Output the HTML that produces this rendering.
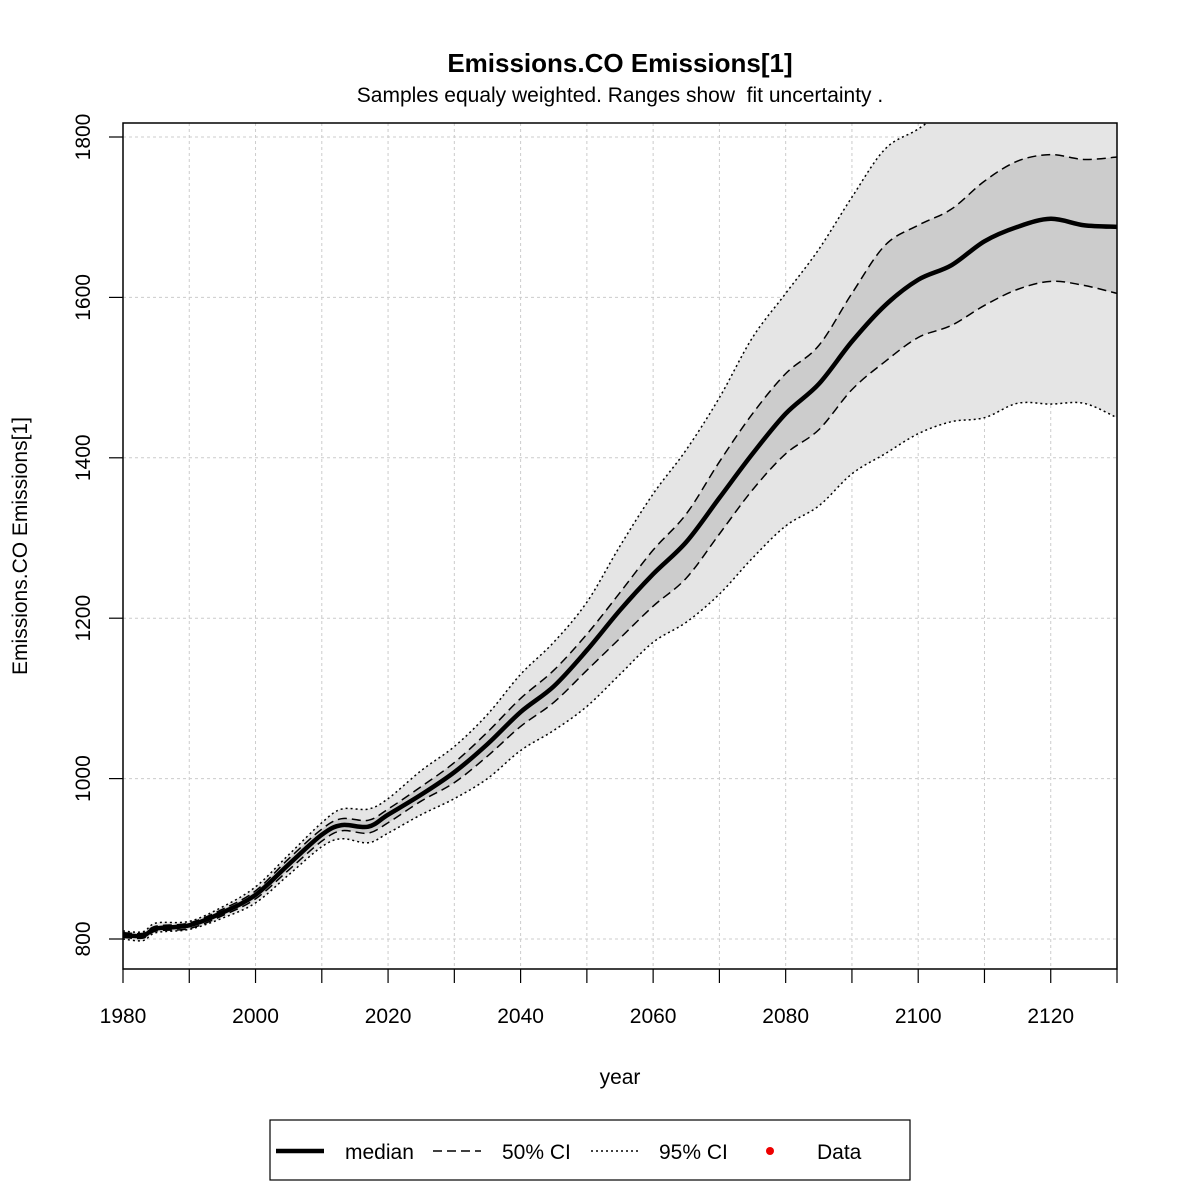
<!DOCTYPE html>
<html><head><meta charset="utf-8"><style>
body{margin:0;background:#fff}
svg{font-family:"Liberation Sans",Arial,sans-serif}
</style></head><body>
<svg id="chart" width="1181" height="1181" viewBox="0 0 1181 1181">
<defs><clipPath id="pc"><rect x="123" y="123" width="994" height="846"/></clipPath></defs>
<rect width="1181" height="1181" fill="#fff"/>
<text x="620" y="72" text-anchor="middle" font-size="26" font-weight="bold">Emissions.CO Emissions[1]</text>
<text x="620" y="102" text-anchor="middle" font-size="21" style="white-space:pre">Samples equaly weighted. Ranges show&#160; fit uncertainty .</text>
<g id="grid"></g>
<g id="bands" clip-path="url(#pc)"></g>
<g id="lines" clip-path="url(#pc)"></g>
<rect x="123" y="123" width="994" height="846" fill="none" stroke="#000" stroke-width="1.5"/>
<g id="axes"></g>
<text x="620" y="1084" text-anchor="middle" font-size="21">year</text>
<text transform="translate(27,546) rotate(-90)" text-anchor="middle" font-size="21">Emissions.CO Emissions[1]</text>
<g>
<rect x="270" y="1120" width="640" height="60" fill="#fff" stroke="#000" stroke-width="1.2"/>
<g><line x1="276" y1="1151" x2="324" y2="1151" stroke="#000" stroke-width="4.5"/><text x="345" y="1159" font-size="21">median</text></g>
<g><line x1="433" y1="1151" x2="481" y2="1151" stroke="#000" stroke-width="1.5" stroke-dasharray="9,5"/><text x="502" y="1159" font-size="21">50% CI</text></g>
<g><line x1="591" y1="1151" x2="639" y2="1151" stroke="#000" stroke-width="1.5" stroke-dasharray="2,3"/><text x="659" y="1159" font-size="21">95% CI</text></g>
<g><circle cx="770" cy="1151" r="4" fill="#e00"/><text x="817" y="1159" font-size="21">Data</text></g>
</g>
</svg>
<script>
const years   =[1980,1983,1985,1990,1995,2000,2005,2010,2013,2017,2020,2025,2030,2035,2040,2045,2050,2055,2060,2065,2070,2075,2080,2085,2090,2095,2100,2105,2110,2115,2120,2125,2130];
const median  =[805,804,813,817,833,855,893,930,942,940,955,980,1008,1043,1083,1115,1160,1210,1255,1295,1350,1405,1455,1492,1545,1590,1622,1640,1670,1688,1698,1690,1688];
const upper50 =[808,807,816,820,837,860,900,937,950,948,962,990,1020,1058,1100,1135,1180,1232,1285,1330,1395,1455,1505,1540,1605,1665,1690,1710,1745,1770,1778,1772,1775];
const lower50 =[802,801,810,813,829,850,886,922,935,932,945,972,995,1028,1065,1095,1135,1175,1215,1250,1305,1360,1405,1435,1485,1520,1550,1565,1590,1610,1620,1615,1605];
const upper95 =[810,809,820,822,840,865,905,945,962,962,975,1010,1040,1080,1130,1170,1220,1290,1355,1410,1475,1550,1605,1660,1725,1785,1810,1840,1870,1895,1915,1930,1945];
const lower95 =[800,798,808,812,826,845,880,915,925,920,932,955,975,1000,1035,1060,1090,1130,1170,1195,1230,1275,1315,1340,1380,1405,1430,1445,1450,1468,1467,1468,1450];
const xTicks  =[1980,2000,2020,2040,2060,2080,2100,2120];
const xMinor  =[1980,1990,2000,2010,2020,2030,2040,2050,2060,2070,2080,2090,2100,2110,2120,2130];
const yTicks  =[800,1000,1200,1400,1600,1800];
const NS="http://www.w3.org/2000/svg";
const X=v=>123+(v-1980)*994/150;
const Y=v=>939-(v-800)*0.802;
function mk(t,a,p){const e=document.createElementNS(NS,t);for(const k in a)e.setAttribute(k,a[k]);p.appendChild(e);return e;}
function pts(arr){return years.map((y,i)=>[X(y),Y(arr[i])]);}
function smooth(P){let d=`M${P[0][0]},${P[0][1]}`;for(let i=0;i<P.length-1;i++){const p0=P[i-1]||P[i],p1=P[i],p2=P[i+1],p3=P[i+2]||P[i+1];
d+=` C${p1[0]+(p2[0]-p0[0])/6},${p1[1]+(p2[1]-p0[1])/6} ${p2[0]-(p3[0]-p1[0])/6},${p2[1]-(p3[1]-p1[1])/6} ${p2[0]},${p2[1]}`;}return d;}
function band(up,lo){const a=smooth(pts(up));const b=smooth(pts(lo).reverse());return a+" L"+b.slice(1)+" Z";}
const grid=document.getElementById('grid'),axes=document.getElementById('axes'),bands=document.getElementById('bands'),lines=document.getElementById('lines');
xMinor.forEach(v=>{const l=mk('line',{x1:X(v),x2:X(v),y1:123,y2:969,stroke:'#ccc','stroke-dasharray':'3,3'},grid);


const t=mk('line',{x1:X(v),x2:X(v),y1:969,y2:983,stroke:'#000','stroke-width':1.2},axes);

});
xTicks.forEach(v=>{const t=mk('text',{x:X(v),y:1023,'text-anchor':'middle','font-size':21},axes);t.textContent=v;

});
yTicks.forEach(v=>{const l=mk('line',{x1:123,x2:1117,y1:Y(v),y2:Y(v),stroke:'#ccc','stroke-dasharray':'3,3'},grid);


const t=mk('line',{x1:109,x2:123,y1:Y(v),y2:Y(v),stroke:'#000','stroke-width':1.2},axes);


const tx=mk('text',{transform:`translate(90,${Y(v)}) rotate(-90)`,'text-anchor':'middle','font-size':21},axes);tx.textContent=v;

});
const b95=mk('path',{d:band(upper95,lower95),fill:'#e5e5e5'},bands);


const b50=mk('path',{d:band(upper50,lower50),fill:'#cccccc'},bands);


[[upper95,'2,3',1.5,'line-upper-95'],[lower95,'2,3',1.5,'line-lower-95'],[upper50,'9,5',1.5,'line-upper-50'],[lower50,'9,5',1.5,'line-lower-50'],[median,'',4.5,'line-median']].forEach(s=>{
const p=mk('path',{d:smooth(pts(s[0])),fill:'none',stroke:'#000','stroke-width':s[2],'stroke-dasharray':s[1]||'none'},lines);

});
</script>
</body></html>
